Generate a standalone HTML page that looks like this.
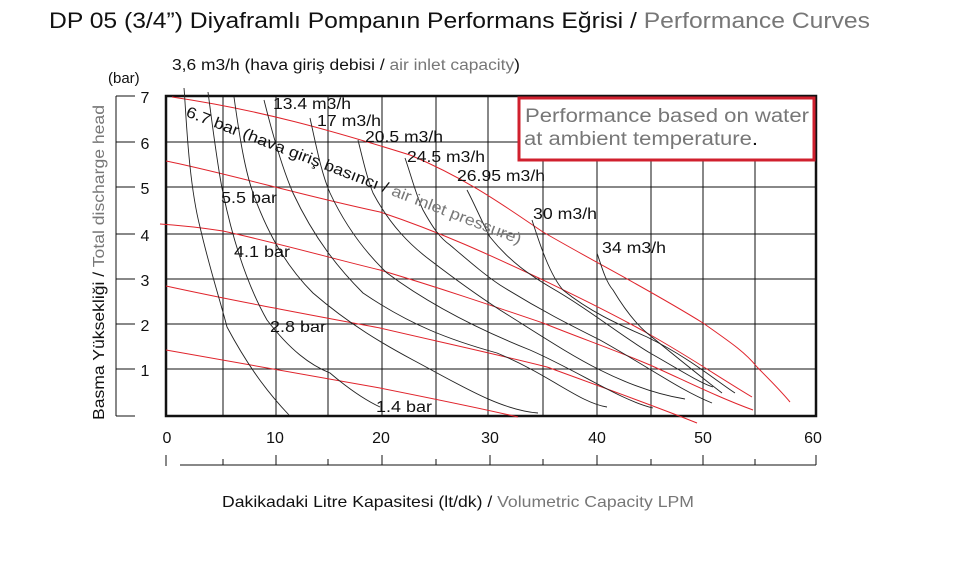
<!DOCTYPE html>
<html><head><meta charset="utf-8"><style>
body{margin:0;background:#fff;}
svg{display:block;font-family:"Liberation Sans",sans-serif;}
</style></head><body>
<svg width="956" height="576" viewBox="0 0 956 576">
<text x="49" y="28" font-size="22" fill="#111" textLength="821" lengthAdjust="spacingAndGlyphs">DP 05 (3/4”) Diyaframlı Pompanın Performans Eğrisi / <tspan fill="#777">Performance Curves</tspan></text>
<text x="172" y="70" font-size="15.5" fill="#111" textLength="348" lengthAdjust="spacingAndGlyphs">3,6 m3/h (hava giriş debisi / <tspan fill="#777">air inlet capacity</tspan>)</text>
<text x="108" y="83" font-size="15" fill="#111">(bar)</text>
<g stroke="#111" stroke-width="1">
<line x1="116" y1="96" x2="116" y2="416"/>
<line x1="116" y1="96" x2="135" y2="96"/><line x1="116" y1="142" x2="135" y2="142"/>
<line x1="116" y1="187" x2="135" y2="187"/><line x1="116" y1="234" x2="135" y2="234"/>
<line x1="116" y1="279" x2="135" y2="279"/><line x1="116" y1="324" x2="135" y2="324"/>
<line x1="116" y1="369" x2="135" y2="369"/><line x1="116" y1="416" x2="135" y2="416"/>
</g>
<g font-size="16" fill="#111" text-anchor="middle">
<text x="145" y="103">7</text><text x="145" y="149">6</text><text x="145" y="194">5</text>
<text x="145" y="241">4</text><text x="145" y="286">3</text><text x="145" y="331">2</text><text x="145" y="376">1</text>
</g>
<text transform="translate(104,420) rotate(-90)" font-size="16" fill="#111" textLength="315" lengthAdjust="spacingAndGlyphs">Basma Yüksekliği / <tspan fill="#777">Total discharge head</tspan></text>
<g stroke="#111" stroke-width="1">
<line x1="223" y1="96" x2="223" y2="416"/><line x1="276" y1="96" x2="276" y2="416"/>
<line x1="328" y1="96" x2="328" y2="416"/><line x1="382" y1="96" x2="382" y2="416"/>
<line x1="436" y1="96" x2="436" y2="416"/><line x1="488" y1="96" x2="488" y2="416"/>
<line x1="543" y1="96" x2="543" y2="416"/><line x1="597" y1="96" x2="597" y2="416"/>
<line x1="651" y1="96" x2="651" y2="416"/><line x1="703" y1="96" x2="703" y2="416"/>
<line x1="755" y1="96" x2="755" y2="416"/>
<line x1="166" y1="142" x2="816" y2="142"/><line x1="166" y1="187" x2="816" y2="187"/>
<line x1="166" y1="234" x2="816" y2="234"/><line x1="166" y1="279" x2="816" y2="279"/>
<line x1="166" y1="324" x2="816" y2="324"/><line x1="166" y1="369" x2="816" y2="369"/>
</g>
<rect x="166" y="96" width="650" height="320" fill="none" stroke="#111" stroke-width="2.5"/>
<rect x="519" y="98" width="295" height="62" fill="#fff" stroke="#d0202e" stroke-width="3"/>
<text x="525" y="122" font-size="19" fill="#777" textLength="284" lengthAdjust="spacingAndGlyphs">Performance based on water</text>
<text x="524" y="145" font-size="19" fill="#777" textLength="234" lengthAdjust="spacingAndGlyphs">at ambient temperature<tspan fill="#111">.</tspan></text>
<g fill="none" stroke="#e0242c" stroke-width="1">
<path d="M172,97 C260,110 330,130 410,155 C470,180 510,210 543,232 C600,265 650,290 703,323 C730,342 745,352 757,367 C770,380 780,390 790,402"/>
<path d="M166,161 C230,174 300,195 380,212 C440,232 490,255 543,280 C580,298 615,315 647,333 C690,357 720,378 752,397"/>
<path d="M160,224 C190,226 210,229 223,231 C290,246 330,258 380,270 C440,288 490,305 543,323 C580,338 615,350 650,365 C690,383 720,398 753,410"/>
<path d="M166,286 C230,300 300,313 380,328 C440,342 500,355 547,367 C610,390 660,408 697,423"/>
<path d="M166,350 C250,365 320,378 380,388 C430,398 480,408 518,417"/>
</g>
<g fill="none" stroke="#222" stroke-width="0.9">
<path d="M184,88 C186,110 188,180 200,227 C210,270 220,300 227,327 C250,370 270,395 289,415"/>
<path d="M208,92 C213,130 218,170 223,193 C235,250 250,290 267,320 C290,350 310,365 330,373 C350,390 365,400 380,407"/>
<path d="M234,97 C240,140 245,170 253,193 C270,240 290,270 313,293 C350,325 385,345 413,360 C460,385 500,410 538,413"/>
<path d="M264,100 C274,140 283,170 293,193 C315,240 340,270 363,293 C410,325 450,340 497,353 C550,375 580,403 607,407"/>
<path d="M310,118 C317,150 322,175 330,193 C345,225 365,252 387,273 C430,305 480,330 530,350 C580,372 620,400 653,408"/>
<path d="M358,140 C363,160 367,178 373,193 C390,225 410,245 430,260 C460,283 480,297 500,310 C540,335 570,355 600,370 C630,385 660,395 685,399"/>
<path d="M405,158 C411,175 416,195 423,210 C433,228 440,238 450,245 C470,262 485,275 500,285 C540,310 570,325 600,340 C650,368 680,390 712,403"/>
<path d="M467,190 C475,205 482,222 490,237 C510,262 530,275 550,287 C590,310 620,335 650,353 C680,370 700,383 713,387"/>
<path d="M532,220 C540,245 550,275 563,290 C590,312 620,325 647,337 C690,358 715,380 735,393"/>
<path d="M597,253 C602,268 606,282 613,290 C622,305 634,322 647,333 C680,360 705,380 722,393"/>
</g>
<g font-size="15.5" fill="#111">
<text x="273" y="109" textLength="78" lengthAdjust="spacingAndGlyphs">13.4 m3/h</text>
<text x="317" y="126" textLength="64" lengthAdjust="spacingAndGlyphs">17 m3/h</text>
<text x="365" y="142" textLength="78" lengthAdjust="spacingAndGlyphs">20.5 m3/h</text>
<text x="407" y="162" textLength="78" lengthAdjust="spacingAndGlyphs">24.5 m3/h</text>
<text x="457" y="181" textLength="88" lengthAdjust="spacingAndGlyphs">26.95 m3/h</text>
<text x="533" y="219" textLength="64" lengthAdjust="spacingAndGlyphs">30 m3/h</text>
<text x="602" y="253" textLength="64" lengthAdjust="spacingAndGlyphs">34 m3/h</text>
<text x="221" y="203" textLength="56" lengthAdjust="spacingAndGlyphs">5.5 bar</text>
<text x="234" y="257" textLength="56" lengthAdjust="spacingAndGlyphs">4.1 bar</text>
<text x="270" y="332" textLength="56" lengthAdjust="spacingAndGlyphs">2.8 bar</text>
<text x="376" y="412" textLength="56" lengthAdjust="spacingAndGlyphs">1.4 bar</text>
</g>
<text transform="translate(185,116) rotate(21)" font-size="15.5" fill="#111" textLength="358" lengthAdjust="spacingAndGlyphs">6.7 bar (hava giriş basıncı / <tspan fill="#777">air inlet pressure)</tspan></text>
<g font-size="16" fill="#111" text-anchor="middle">
<text x="167" y="443">0</text><text x="275" y="443">10</text><text x="381" y="443">20</text>
<text x="490" y="443">30</text><text x="597" y="443">40</text><text x="703" y="443">50</text><text x="813" y="443">60</text>
</g>
<g stroke="#111" stroke-width="1">
<line x1="166" y1="455" x2="166" y2="466"/>
<line x1="180" y1="465" x2="816" y2="465"/>
<line x1="223" y1="459" x2="223" y2="465"/><line x1="276" y1="455" x2="276" y2="465"/>
<line x1="328" y1="459" x2="328" y2="465"/><line x1="382" y1="455" x2="382" y2="465"/>
<line x1="436" y1="459" x2="436" y2="465"/><line x1="490" y1="455" x2="490" y2="465"/>
<line x1="543" y1="459" x2="543" y2="465"/><line x1="597" y1="455" x2="597" y2="465"/>
<line x1="651" y1="459" x2="651" y2="465"/><line x1="703" y1="455" x2="703" y2="465"/>
<line x1="755" y1="459" x2="755" y2="465"/><line x1="816" y1="455" x2="816" y2="465"/>
</g>
<text x="222" y="507" font-size="16" fill="#111" textLength="472" lengthAdjust="spacingAndGlyphs">Dakikadaki Litre Kapasitesi (lt/dk) / <tspan fill="#777">Volumetric Capacity LPM</tspan></text>
</svg>
</body></html>
